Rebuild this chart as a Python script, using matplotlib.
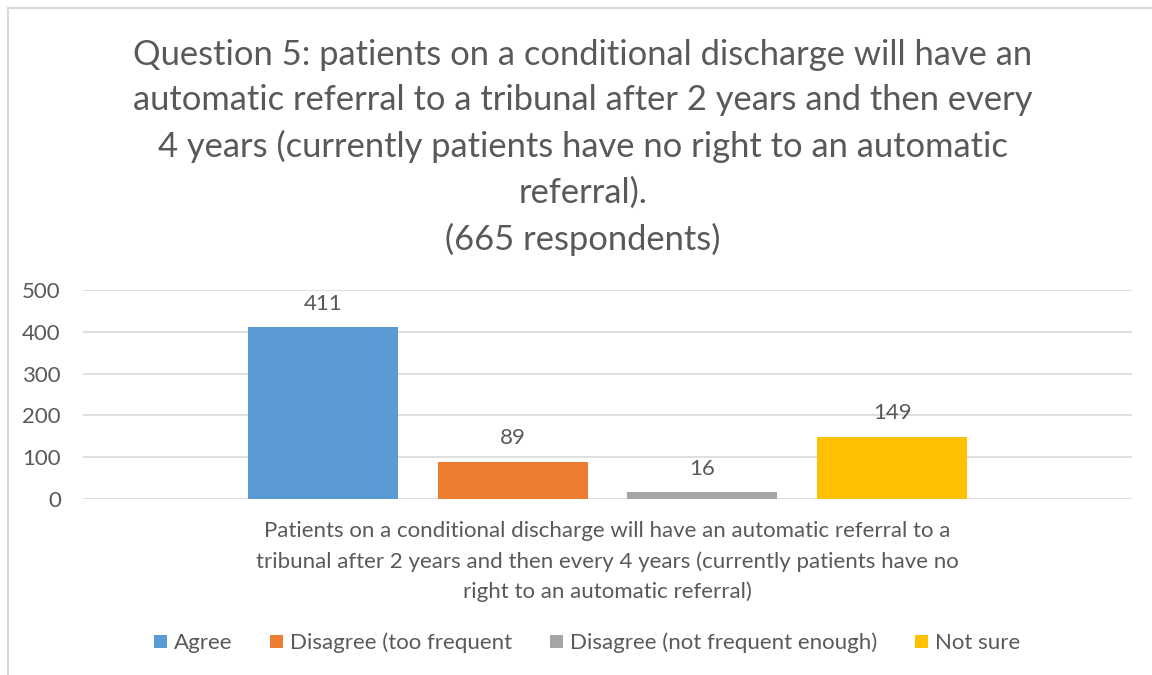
import matplotlib
matplotlib.use("Agg")
import matplotlib.pyplot as plt
from matplotlib.lines import Line2D

categories = ["Agree", "Disagree (too frequent", "Disagree (not frequent enough)", "Not sure"]
values = [411, 89, 16, 149]
colors = ["#5B9BD5", "#ED7D31", "#A5A5A5", "#FFC000"]
group_label = ("Patients on a conditional discharge will have an automatic referral to a\n"
               "tribunal after 2 years and then every 4 years (currently patients have no\n"
               "right to an automatic referral)")
title = ("Question 5: patients on a conditional discharge will have an\n"
         "automatic referral to a tribunal after 2 years and then every\n"
         "4 years (currently patients have no right to an automatic\n"
         "referral).\n"
         "(665 respondents)")
yticks = [0, 100, 200, 300, 400, 500]

plt.rcParams['font.family'] = ['Lato', 'DejaVu Sans']
TXT = "#595959"

W, H = 1152, 675
fig = plt.figure(figsize=(W / 100, H / 100), dpi=100)
bc = "#D9D9D9"
fig.lines.append(Line2D([7.5 / W, 7.5 / W], [0, 1 - 8 / H], transform=fig.transFigure,
                        color=bc, linewidth=1.5))
fig.lines.append(Line2D([7.5 / W, 1], [1 - 8 / H, 1 - 8 / H], transform=fig.transFigure,
                        color=bc, linewidth=1.5))

ax = fig.add_axes([83 / W, 1 - 499 / H, (1132 - 83) / W, (499 - 290) / H])
ax.set_xlim(-0.5, 0.5)
ax.set_ylim(0, 500)
bw = 0.143
step = 0.181
FS = 16
for i, (c, v, col) in enumerate(zip(categories, values, colors)):
    x = (i - 1.5) * step
    ax.bar(x, v, width=bw, color=col, label=c, zorder=3)
    ax.text(x, v + 32, str(v), ha="center", va="bottom", fontsize=FS, color=TXT)

ax.set_yticks(yticks)
ax.yaxis.grid(True, color="#D9D9D9", linewidth=1.2, zorder=0)
for s in ax.spines.values():
    s.set_visible(False)
ax.tick_params(axis="y", length=0, labelsize=FS, labelcolor=TXT, pad=16)
ax.set_xticks([0])
ax.set_xticklabels([group_label], fontsize=FS, color=TXT, linespacing=1.6)
ax.tick_params(axis="x", length=0, pad=16)

fig.text(583 / W, 1 - 39 / H, title, ha="center", va="top", fontsize=24.8,
         color=TXT, linespacing=1.51)

leg = fig.legend(loc="center", bbox_to_anchor=(587 / W, 1 - 643 / H), ncol=4,
                 frameon=False, fontsize=FS, handlelength=0.58, handleheight=0.58,
                 handletextpad=0.32, columnspacing=1.7, borderpad=0, borderaxespad=0)
for t in leg.get_texts():
    t.set_color(TXT)

fig.savefig("out.png", dpi=100, facecolor="white")
